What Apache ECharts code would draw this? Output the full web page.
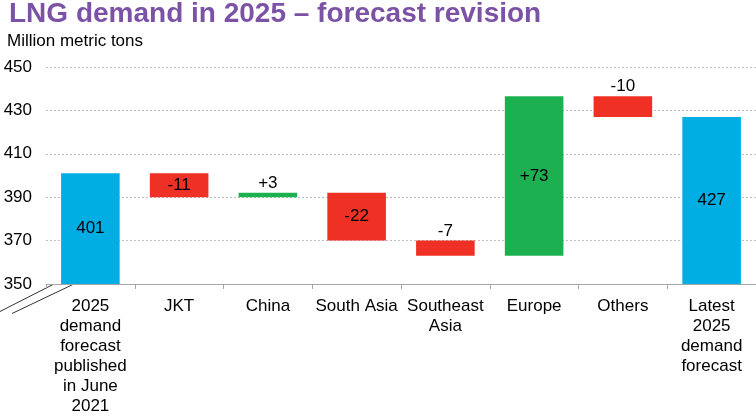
<!DOCTYPE html>
<html>
<head>
<meta charset="utf-8">
<script src="https://cdn.jsdelivr.net/npm/echarts@6/dist/echarts.min.js"></script>
<style>
html,body{margin:0;padding:0;background:#fff;}
#chart{width:756px;height:416px;}
</style>
</head>
<body>
<div id="chart"></div>
<script>
var categories = ["2025\ndemand\nforecast\npublished\nin June\n2021", "JKT", "China", "South Asia", "Southeast\nAsia", "Europe", "Others", "Latest\n2025\ndemand\nforecast"];
// bar sizes (million metric tons)
var values = [401, -11, 2, -22, -7, 73.5, -9.5, 427];
// printed labels on the picture
var valueLabels = ["401", "-11", "+3", "-22", "-7", "+73", "-10", "427"];
var kinds = ["total", "delta", "delta", "delta", "delta", "delta", "delta", "total"];
var labelPlacement = ["inside", "inside", "top", "inside", "top", "inside", "top", "inside"];
var yTicks = { min: 350, max: 450, interval: 20 };

var FONT = "'Liberation Sans', Arial, sans-serif";
var BLUE = "#00AEE4", RED = "#EE3124", GREEN = "#1CB050";

var baseData = [], barData = [], running = 0;
for (var i = 0; i < values.length; i++) {
  var v = values[i];
  var color, base, h;
  if (kinds[i] === "total") {
    base = yTicks.min; h = v - yTicks.min; running = v; color = BLUE;
  } else {
    var start = running, end = running + v;
    base = Math.min(start, end); h = Math.abs(v); running = end;
    color = v < 0 ? RED : GREEN;
  }
  baseData.push(base);
  barData.push({
    value: h,
    itemStyle: { color: color },
    label: {
      show: true,
      position: labelPlacement[i],
      distance: labelPlacement[i] === "top" ? 1 : 5,
      formatter: valueLabels[i],
      color: "#000",
      fontSize: 17,
      fontFamily: FONT
    }
  });
}

var chart = echarts.init(document.getElementById("chart"), null, { renderer: "canvas" });
chart.setOption({
  animation: false,
  backgroundColor: "#fff",
  grid: { left: 46, right: -7, top: 67, bottom: 130, containLabel: false },
  graphic: [
    { type: "text", left: 9, top: 0, style: { text: "LNG demand in 2025 \u2013 forecast revision", fill: "#7B52A5", font: "bold 28px " + FONT } },
    { type: "text", left: 7, top: 33, style: { text: "Million metric tons", fill: "#000", font: "17px " + FONT } },
    { type: "line", shape: { x1: 0, y1: 311.5, x2: 53, y2: 284.5 }, style: { stroke: "#333", lineWidth: 1 } },
    { type: "line", shape: { x1: 12, y1: 313.5, x2: 75, y2: 283.5 }, style: { stroke: "#333", lineWidth: 1 } }
  ],
  xAxis: {
    type: "category",
    data: categories,
    boundaryGap: true,
    axisLine: { show: true, lineStyle: { color: "#A6A6A6", width: 1 } },
    axisTick: { show: true, length: 5, lineStyle: { color: "#A6A6A6" } },
    axisLabel: { interval: 0, color: "#000", fontSize: 17, lineHeight: 20, fontFamily: FONT, margin: 12 }
  },
  yAxis: {
    type: "value",
    min: yTicks.min, max: yTicks.max, interval: yTicks.interval,
    axisLine: { show: false },
    axisTick: { show: false },
    axisLabel: { color: "#000", fontSize: 17, fontFamily: FONT, margin: 14 },
    splitLine: { show: true, lineStyle: { color: "#BFBFBF", type: [2, 2], width: 1 } }
  },
  series: [
    { type: "bar", stack: "w", data: baseData, itemStyle: { color: "rgba(0,0,0,0)" }, emphasis: { disabled: true }, barWidth: "66%", silent: true },
    { type: "bar", stack: "w", data: barData, barWidth: "66%" }
  ]
});
</script>
</body>
</html>
